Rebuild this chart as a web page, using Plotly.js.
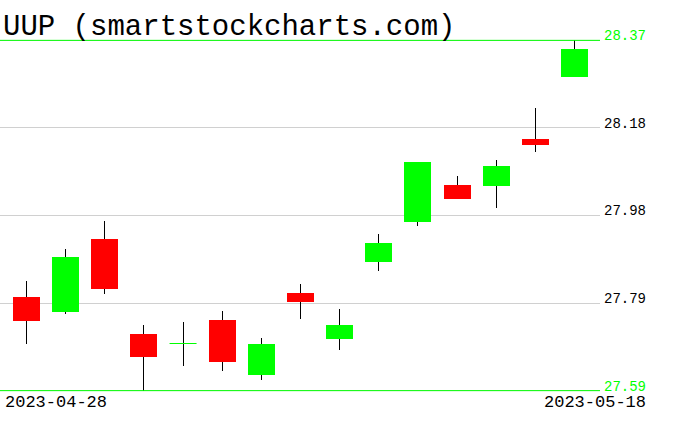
<!DOCTYPE html>
<html>
<head>
<meta charset="utf-8">
<script src="https://cdn.plot.ly/plotly-3.0.1.min.js"></script>
<style>
  html, body { margin: 0; padding: 0; background: #ffffff; }
  #chart { width: 676px; height: 431px; }
</style>
</head>
<body>
<div id="chart"></div>
<script>
// ---- data ----
var dates = ['2023-04-28','2023-05-01','2023-05-02','2023-05-03','2023-05-04','2023-05-05','2023-05-08','2023-05-09','2023-05-10','2023-05-11','2023-05-12','2023-05-15','2023-05-16','2023-05-17','2023-05-18'];
var openV  = [27.798, 27.765, 27.927, 27.716, 27.695, 27.747, 27.625, 27.807, 27.705, 27.877, 27.966, 28.048, 28.046, 28.150, 28.289];
var highV  = [27.834, 27.906, 27.967, 27.736, 27.742, 27.767, 27.707, 27.827, 27.771, 27.938, 28.100, 28.068, 28.103, 28.219, 28.370];
var lowV   = [27.694, 27.761, 27.805, 27.590, 27.645, 27.634, 27.614, 27.750, 27.681, 27.857, 27.957, 28.016, 27.997, 28.122, 28.289];
var closeV = [27.745, 27.887, 27.816, 27.665, 27.695, 27.654, 27.695, 27.787, 27.736, 27.918, 28.100, 28.017, 28.090, 28.137, 28.351];
var tickVals = [27.59, 27.785, 27.98, 28.175, 28.37];
var tickLabels = ['27.59', '27.79', '27.98', '28.18', '28.37'];
var chartTitle = 'UUP (smartstockcharts.com)';

// ---- styles ----
var UP = '#00ff00', DOWN = '#ff0000', WICK = '#000000', GRID = '#d0d0d0';
var BODY_W = 0.69;
var WICK_W = 0.0256;   // about one pixel at this scale

var idx = dates.map(function (d, i) { return i; });
var yMin = tickVals[0], yMax = tickVals[tickVals.length - 1];

// wicks (thin bars, drawn first so bodies cover them)
var wicks = {
  type: 'bar', x: idx,
  base: lowV,
  y: idx.map(function (i) { return highV[i] - lowV[i]; }),
  width: WICK_W,
  marker: { color: WICK, line: { width: 0 } },
  hoverinfo: 'skip', showlegend: false
};

// bodies
var bodies = {
  type: 'bar', x: idx,
  base: idx.map(function (i) { return Math.min(openV[i], closeV[i]); }),
  y: idx.map(function (i) { return Math.abs(closeV[i] - openV[i]); }),
  width: BODY_W,
  marker: {
    color: idx.map(function (i) { return closeV[i] >= openV[i] ? UP : DOWN; }),
    line: { width: 0 }
  },
  hoverinfo: 'skip', showlegend: false
};

// doji (open == close) drawn as a flat line
var dx = [], dy = [];
idx.forEach(function (i) {
  if (Math.abs(closeV[i] - openV[i]) < 1e-9) {
    dx.push(i - BODY_W / 2, i + BODY_W / 2, null);
    dy.push(openV[i], closeV[i], null);
  }
});
var doji = {
  type: 'scatter', mode: 'lines', x: dx, y: dy,
  line: { color: UP, width: 1 }, hoverinfo: 'skip', showlegend: false
};

var tickText = tickLabels.map(function (t, k) {
  return (k === 0 || k === tickLabels.length - 1)
    ? '<span style="color:' + UP + '">' + t + '</span>' : t;
});

var pad = 0.003;
var layout = {
  width: 676, height: 431,
  margin: { l: 0, r: 76, t: 39, b: 39, pad: 0 },
  paper_bgcolor: '#ffffff', plot_bgcolor: '#ffffff',
  showlegend: false,
  barmode: 'overlay',
  bargap: 0,
  title: {
    text: chartTitle,
    font: { family: 'Liberation Mono, DejaVu Sans Mono, monospace', size: 29, color: '#000000' },
    xref: 'container', yref: 'container',
    x: 3 / 676, xanchor: 'left',
    y: 1 - 25 / 431, yanchor: 'middle'
  },
  xaxis: {
    range: [-0.677, 14.652],
    showgrid: false, zeroline: false, showticklabels: false, ticks: '',
    showline: false, fixedrange: true
  },
  yaxis: {
    side: 'right',
    range: [yMin - pad, yMax + pad],
    tickmode: 'array', tickvals: tickVals, ticktext: tickText,
    showgrid: true, gridcolor: GRID, gridwidth: 1,
    zeroline: false, showline: false, ticks: '',
    ticklabelstandoff: 3, ticklabelshift: -5,
    tickfont: { family: 'Liberation Mono, DejaVu Sans Mono, monospace', size: 14, color: '#000000' },
    fixedrange: true
  },
  shapes: [yMin, yMax].map(function (v) {
    return { type: 'line', xref: 'paper', x0: 0, x1: 1, yref: 'y', y0: v, y1: v,
             line: { color: UP, width: 1 }, layer: 'above' };
  }),
  annotations: [
    { text: dates[0], xref: 'paper', yref: 'paper', x: 3 / 600, y: 0,
      xanchor: 'left', yanchor: 'middle', yshift: -10, showarrow: false,
      font: { family: 'Liberation Mono, DejaVu Sans Mono, monospace', size: 17, color: '#000000' } },
    { text: dates[dates.length - 1], xref: 'paper', yref: 'paper', x: 648 / 600, y: 0,
      xanchor: 'right', yanchor: 'middle', yshift: -10, showarrow: false,
      font: { family: 'Liberation Mono, DejaVu Sans Mono, monospace', size: 17, color: '#000000' } }
  ]
};

Plotly.newPlot('chart', [wicks, bodies, doji], layout, { displayModeBar: false, staticPlot: true });
</script>
</body>
</html>
